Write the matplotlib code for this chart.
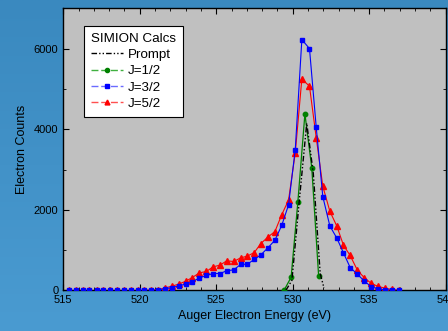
import numpy as np
import matplotlib

matplotlib.use("Agg")
import matplotlib.pyplot as plt
from matplotlib.lines import Line2D
from matplotlib.ticker import MultipleLocator

plt.rcParams["font.family"] = ["Liberation Sans", "DejaVu Sans"]

# shared energy grid for J=3/2 and J=5/2 (eV)
energy = [515.37, 515.83, 516.26, 516.70, 517.18, 517.61, 518.05, 518.52, 518.96,
          519.40, 519.87, 520.31, 520.74, 521.18, 521.64, 522.09, 522.55, 523.01,
          523.44, 523.90, 524.36, 524.79, 525.25, 525.68, 526.14, 526.60, 527.03,
          527.49, 527.92, 528.40, 528.84, 529.29, 529.73, 530.17, 530.60, 531.10,
          531.54, 531.97, 532.43, 532.89, 533.32, 533.76, 534.23, 534.69, 535.15,
          535.60, 536.04, 536.48, 536.93]

j52 = [0, 0, 0, 0, 0, 0, 0, 0, 0, 0, 0, 5, 10, 20, 60, 107, 157, 231, 322, 438,
       471, 587, 628, 735, 719, 810, 851, 942, 1165, 1331, 1463, 1884, 2240, 3413,
       5248, 5066, 3793, 2587, 1967, 1595, 1124, 868, 504, 314, 174, 99, 58, 25, 8]

j32 = [0, 0, 0, 0, 0, 0, 0, 0, 0, 0, 0, 0, 5, 15, 40, 70, 116, 157, 215, 314,
       372, 421, 421, 488, 512, 645, 653, 769, 884, 1066, 1248, 1620, 2124, 3496,
       6223, 6000, 4050, 2330, 1603, 1297, 934, 570, 405, 231, 91, 41, 17, 8, 0]

j12_energy = [529.43, 529.90, 530.34, 530.80, 531.25, 531.70]
j12 = [0, 330, 2200, 4380, 3040, 347]

prompt_energy = [529.55, 529.95, 530.40, 530.92, 531.35, 531.80, 532.05]
prompt = [0, 250, 2100, 4150, 2900, 420, 60]

fig = plt.figure(figsize=(4.48, 3.31), dpi=100)

# slide-style blue gradient background
bg = fig.add_axes([0, 0, 1, 1], zorder=-10)
grad = np.linspace(0, 1, 256).reshape(-1, 1)
bg.imshow(grad, aspect="auto", extent=[0, 1, 0, 1],
          cmap=matplotlib.colors.LinearSegmentedColormap.from_list(
              "bg", ["#3a89bf", "#4a9bd1"]))
bg.axis("off")

ax = fig.add_axes([0.1413, 0.1224, 0.8533, 0.8526])
ax.set_facecolor("#c0c0c0")

ax.plot(energy, j52, color="red", lw=0.8, marker="^", ms=4.6, mec="red", zorder=3)
ax.plot(energy, j32, color="blue", lw=0.8, marker="s", ms=3.5, mec="blue", zorder=4)
ax.plot(j12_energy, j12, color="green", lw=0.9, marker="o", ms=3.2, zorder=5)
ax.plot(prompt_energy, prompt, color="black", lw=1.0,
        dashes=(4, 1.5, 1, 1.5, 1, 1.5), zorder=6)

ax.set_xlim(515, 540)
ax.set_ylim(0, 7000)
ax.xaxis.set_major_locator(MultipleLocator(5))
ax.xaxis.set_minor_locator(MultipleLocator(1))
ax.yaxis.set_major_locator(MultipleLocator(2000))
ax.yaxis.set_minor_locator(MultipleLocator(1000))
ax.tick_params(which="both", direction="in", top=True, right=True,
               labelsize=8, colors="black")
ax.tick_params(which="major", length=4, width=0.8)
ax.tick_params(which="minor", length=2.5, width=0.6)
for s in ax.spines.values():
    s.set_linewidth(1.0)

ax.set_xlabel("Auger Electron Energy (eV)", fontsize=9, labelpad=3)
ax.set_ylabel("Electron Counts", fontsize=9, labelpad=4)

dash = (0, (5, 2))
handles = [
    Line2D([], [], color="black", lw=1.0, dashes=(4, 1.5, 1, 1.5, 1, 1.5)),
    Line2D([], [], color="#40b040", lw=1.0, linestyle=dash, marker="o", ms=3,
           mfc="green", mec="green", markevery=[1]),
    Line2D([], [], color="#6b6bff", lw=1.0, linestyle=dash, marker="s", ms=3,
           mfc="blue", mec="blue", markevery=[1]),
    Line2D([], [], color="#ff5050", lw=1.0, linestyle=dash, marker="^", ms=3.5,
           mfc="red", mec="red", markevery=[1]),
]
for h in handles:
    h.set_xdata([0, 0.5, 1])
    h.set_ydata([0, 0, 0])
leg = ax.legend(handles, ["Prompt", "J=1/2", "J=3/2", "J=5/2"],
                title="SIMION Calcs", loc="upper left",
                bbox_to_anchor=(0.055, 0.937), borderaxespad=0,
                fontsize=9.6, title_fontsize=9.6,
                frameon=True, fancybox=False, edgecolor="black", framealpha=1,
                handlelength=2.4, handletextpad=0.35, labelspacing=0.3,
                borderpad=0.5, alignment="left")
leg.get_frame().set_linewidth(0.8)

fig.savefig("out.png", dpi=100)
